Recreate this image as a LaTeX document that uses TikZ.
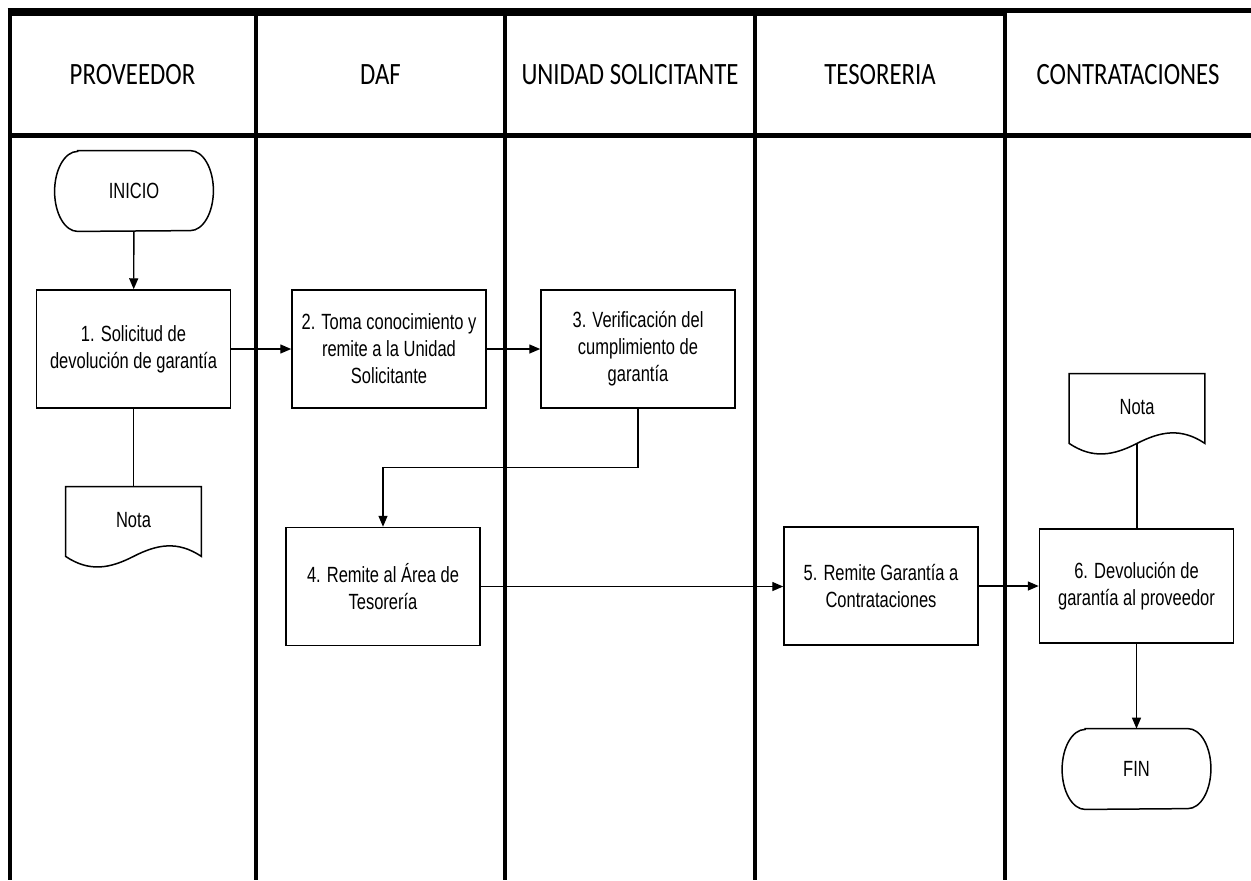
\documentclass[tikz,border=0pt]{standalone}
\usepackage{fontspec}
\setmainfont{Liberation Sans}
\newfontfamily\boxfont[FakeStretch=0.75]{Liberation Sans}
\newfontfamily\headfont[FakeStretch=0.8]{Carlito}
\usetikzlibrary{arrows.meta}
\newcommand\termshape[1]{\draw[line width=0.75pt] ([xshift=11.5pt]#1.north west) -- ([xshift=-11.5pt]#1.north east) arc[start angle=90,end angle=-90,x radius=11.5pt,y radius=20pt] -- ([xshift=11.5pt]#1.south west) arc[start angle=270,end angle=90,x radius=11.5pt,y radius=20pt] -- cycle;}
\newcommand\docshape[1]{\draw[line width=0.75pt] (#1.south west) -- (#1.north west) -- (#1.north east) -- (#1.south east) .. controls +(-12pt,8pt) and +(11.75pt,6pt) .. (#1.south) .. controls +(-11.75pt,-6pt) and +(12pt,-8pt) .. (#1.south west) -- cycle;}
\begin{document}
\begin{tikzpicture}[x=0.5pt,y=-0.5pt,
  lane/.style={line width=2pt},
  stepbox/.style={draw, line width=0.75pt, minimum width=97pt, minimum height=59pt, inner sep=1pt, align=center, font=\boxfont\fontsize{11}{13.5}\selectfont},
  term/.style={minimum width=79pt, minimum height=40pt, inner sep=0pt, font=\boxfont\fontsize{11}{13.5}\selectfont},
  docnode/.style={minimum width=67.5pt, minimum height=34.5pt, inner sep=0pt, font=\boxfont\fontsize{11}{13.5}\selectfont},
  head/.style={font=\headfont\fontsize{15.5}{18}\selectfont},
  flow/.style={line width=0.7pt, -{Triangle[length=5.5pt,width=4.5pt]}},
  link/.style={line width=0.7pt}
]
\useasboundingbox (0,0) rectangle (1251,880);
% frame and lanes
\draw[line width=4pt] (7.5,12) -- (1005,12);
\draw[line width=2.5pt] (1005,10.5) -- (1251,10.5);
\draw[line width=2.3pt] (9,135.5) -- (1251,135.5);
\foreach \x in {9.5,256,505,755,1005} \draw[lane] (\x,8) -- (\x,880);
% headers
\node[head] (h1) at (132.5,75) {PROVEEDOR};
\node[head] (h2) at (380.5,75) {DAF};
\node[head] (h3) at (630,75) {UNIDAD SOLICITANTE};
\node[head] (h4) at (880,75) {TESORERIA};
\node[head] (h5) at (1128,75) {CONTRATACIONES};
% nodes
\node[term] (inicio) at (134,191) {INICIO};
\termshape{inicio}
\node[stepbox] (s1) at (133.5,349) {1. Solicitud de\\devolución de garantía};
\node[stepbox] (s2) at (389,349) {2. Toma conocimiento y\\remite a la Unidad\\Solicitante};
\node[stepbox] (s3) at (638,349) {3. Verificación del\\cumplimiento de\\garantía};
\node[stepbox] (s4) at (383,586.5) {4. Remite al Área de\\Tesorería};
\node[stepbox] (s5) at (881,586) {5. Remite Garantía a\\Contrataciones};
\node[stepbox, minimum height=57pt] (s6) at (1136.5,586) {6. Devolución de\\garantía al proveedor};
\node[docnode] (n1) at (133.5,521.5) {\raisebox{2pt}{Nota}};
\docshape{n1}
\node[docnode] (n2) at (1137,408.5) {\raisebox{2pt}{Nota}};
\docshape{n2}
\node[term, minimum width=74pt] (fin) at (1136.5,769) {FIN};
\termshape{fin}
% connectors
\draw[flow] (inicio) -- (s1);
\draw[link] (s1) -- (n1);
\draw[flow] (s1) -- (s2);
\draw[flow] (s2) -- (s3);
\draw[flow] (s3.south) -- ++(0,59) -| (s4.north);
\draw[flow] (s4.east) -- (s4.east -| s5.west);
\draw[flow] (s5) -- (s6);
\draw[link] (n2.south) -- (n2.south |- s6.north);
\draw[flow] (s6.south) -- (s6.south |- fin.north);
\end{tikzpicture}
\end{document}
